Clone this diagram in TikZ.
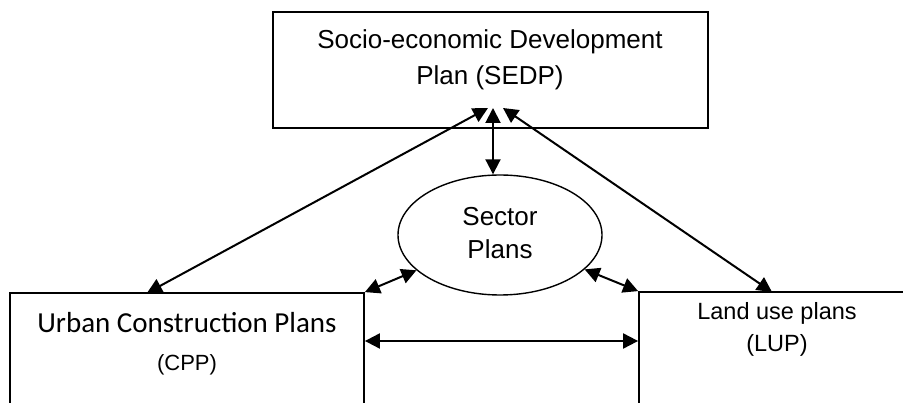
\documentclass[tikz,border=0pt]{standalone}
\usepackage{fontspec}
\setmainfont{Liberation Sans}
\newfontfamily\calib{Carlito}
\usetikzlibrary{arrows.meta,shapes.geometric}
\begin{document}
\begin{tikzpicture}[x=1pt,y=-1pt,
  box/.style={draw,line width=1.8pt,rectangle,inner sep=0pt},
  conn/.style={line width=2pt,{Triangle[length=15pt,width=15pt]}-{Triangle[length=15pt,width=15pt]}},
  lbl/.style={align=center,inner sep=0pt}]
\clip (0,0) rectangle (903,403);
\fill[white] (0,0) rectangle (903,403);
% boxes
\node[box,minimum width=435pt,minimum height=116pt] (sedp) at (490.5,70) {};
\node[lbl,font=\fontsize{26}{36}\selectfont] (sedpt) at (490,60) {Socio-economic Development\\Plan (SEDP)};
\node[draw,ellipse,line width=1.4pt,minimum width=204pt,minimum height=120pt,inner sep=0pt] (ell) at (500,235) {};
\node[lbl,font=\fontsize{26}{33}\selectfont] (ellt) at (500,233.5) {Sector\\Plans};
\node[box,minimum width=354pt,minimum height=200pt] (cpp) at (187,393) {};
\node[lbl,font=\calib\fontsize{29}{35}\selectfont] (cppa) at (187,323) {Urban Construction Plans};
\node[lbl,font=\fontsize{22}{26}\selectfont] (cppb) at (187,365) {(CPP)};
\node[box,minimum width=321pt,minimum height=200pt] (lup) at (799.5,392) {};
\node[lbl,font=\fontsize{23.5}{32}\selectfont] (lupt) at (777,329) {Land use plans\\(LUP)};
% coordinates
\coordinate (tipL) at (488,108);
\coordinate (tipM) at (493,108);
\coordinate (tipR) at (503,108);
\coordinate (cppT) at (147,293);
\coordinate (lupT) at (772,292);
\coordinate (h) at (0,341);
% connectors
\draw[conn] (cppT) -- (tipL);
\draw[conn] (lupT) -- (tipR);
\draw[conn] (tipM) -- (tipM |- ell.north);
\draw[conn] (ell) -- (cpp.north east);
\draw[conn] (ell) -- (lup.north west);
\draw[conn] (cpp.east |- h) -- (lup.west |- h);
\end{tikzpicture}
\end{document}
